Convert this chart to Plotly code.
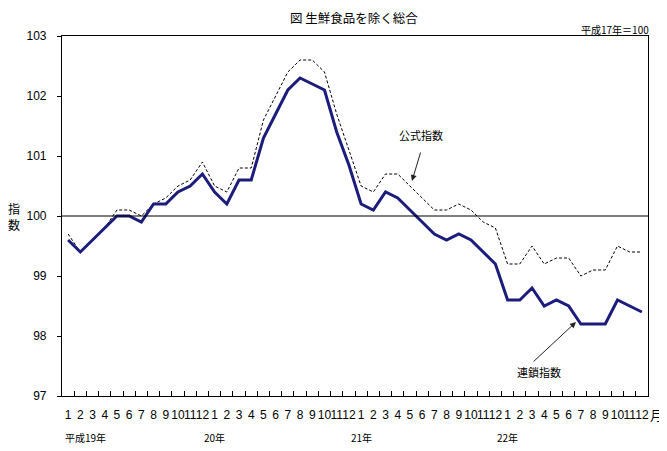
import plotly.graph_objects as go

years = ["19", "20", "21", "22"]
months = [str(m) for m in range(1, 13)]
year_labels = ["平成19年", "20年", "21年", "22年"]

official = [99.7, 99.4, 99.6, 99.8, 100.1, 100.1, 100.0, 100.2, 100.3, 100.5, 100.6, 100.9,
            100.5, 100.4, 100.8, 100.8, 101.6, 102.0, 102.4, 102.6, 102.6, 102.4, 101.7, 101.1,
            100.5, 100.4, 100.7, 100.7, 100.5, 100.3, 100.1, 100.1, 100.2, 100.1, 99.9, 99.8,
            99.2, 99.2, 99.5, 99.2, 99.3, 99.3, 99.0, 99.1, 99.1, 99.5, 99.4, 99.4]
chain = [99.6, 99.4, 99.6, 99.8, 100.0, 100.0, 99.9, 100.2, 100.2, 100.4, 100.5, 100.7,
         100.4, 100.2, 100.6, 100.6, 101.3, 101.7, 102.1, 102.3, 102.2, 102.1, 101.4, 100.85,
         100.2, 100.1, 100.4, 100.3, 100.1, 99.9, 99.7, 99.6, 99.7, 99.6, 99.4, 99.2,
         98.6, 98.6, 98.8, 98.5, 98.6, 98.5, 98.2, 98.2, 98.2, 98.6, 98.5, 98.4]

cats = [f"{y}-{m}" for y in years for m in months]
tick_text = [m for y in years for m in months]

FONT = "Arial, Liberation Sans, Noto Sans CJK JP"
JP = "Noto Sans CJK JP"

fig = go.Figure()
fig.add_trace(go.Scatter(x=cats, y=official, mode="lines", name="公式指数",
                         line=dict(color="black", width=1, dash="3px,2px")))
fig.add_trace(go.Scatter(x=cats, y=chain, mode="lines", name="連鎖指数",
                         line=dict(color="#1c1c7c", width=3)))

# page body has an 8px default margin; compensate so the plot lands where the reference has it
OFF = 8
W, H = 667 - OFF, 451 - OFF
L, T = 62 - OFF, 36 - OFF
R = W - (648 - OFF)
B = H - (396 - OFF)
pw, ph = W - L - R, H - T - B

def px(x):
    return (x - OFF - L) / pw

def py(y):
    return (H - B - (y - OFF)) / ph

fig.add_shape(type="line", xref="paper", yref="y", x0=0, x1=1, y0=100, y1=100,
              line=dict(color="black", width=1.2))

ann = []
for i, lab in enumerate(year_labels):
    if i == 0:
        ann.append(dict(x=px(63), y=py(437), xref="paper", yref="paper", text=lab,
                        showarrow=False, xanchor="left", yanchor="middle",
                        font=dict(family=JP, size=10, color="black")))
    else:
        ann.append(dict(x=cats[i * 12], y=py(437), xref="x", yref="paper", text=lab,
                        showarrow=False, xanchor="center", yanchor="middle",
                        font=dict(family=JP, size=10, color="black")))
ann += [
    dict(x=px(657), y=py(414), xref="paper", yref="paper", text="月", showarrow=False,
         xanchor="center", yanchor="middle", font=dict(family=JP, size=13, color="black")),
    dict(x=px(354), y=py(18), xref="paper", yref="paper", text="図 生鮮食品を除く総合",
         showarrow=False, xanchor="center", yanchor="middle",
         font=dict(family=JP, size=12.5, color="black")),
    dict(x=px(651), y=py(29), xref="paper", yref="paper", text="平成17年＝100",
         showarrow=False, xanchor="right", yanchor="middle",
         font=dict(family=JP, size=10, color="black")),
    dict(x=px(14), y=py(216), xref="paper", yref="paper", text="指<br>数",
         showarrow=False, xanchor="center", yanchor="middle",
         font=dict(family=JP, size=12, color="black")),
    dict(x=px(421), y=py(135), xref="paper", yref="paper", text="公式指数",
         showarrow=False, xanchor="center", yanchor="middle",
         font=dict(family=JP, size=11, color="black")),
    dict(x=px(412), y=py(181), xref="paper", yref="paper", text="", showarrow=True,
         ax=9, ay=-30, arrowhead=2, arrowsize=1.2, arrowwidth=1, arrowcolor="#222",
         standoff=0, startstandoff=0),
    dict(x=px(539), y=py(372), xref="paper", yref="paper", text="連鎖指数",
         showarrow=False, xanchor="center", yanchor="middle",
         font=dict(family=JP, size=11, color="black")),
    dict(x=px(576), y=py(322), xref="paper", yref="paper", text="", showarrow=True,
         ax=-44, ay=41, arrowhead=2, arrowsize=1.2, arrowwidth=1, arrowcolor="#222",
         standoff=0, startstandoff=0),
]

fig.update_layout(
    width=W, height=H,
    margin=dict(l=L, r=R, t=T, b=B),
    paper_bgcolor="white", plot_bgcolor="white",
    showlegend=False,
    font=dict(family=FONT, size=12, color="black"),
    annotations=ann,
    xaxis=dict(type="category", tickmode="array", tickvals=cats, ticktext=tick_text,
               tickson="boundaries", ticks="inside", ticklen=5, tickcolor="black",
               showgrid=False, showline=True, linecolor="black", linewidth=1.2, mirror=True,
               tickfont=dict(family=FONT, size=12), tickangle=0, ticklabelstandoff=7,
               range=[-0.5, 47.5]),
    yaxis=dict(range=[97, 103], tickmode="array", tickvals=[97, 98, 99, 100, 101, 102, 103],
               ticks="outside", ticklen=4, tickcolor="black", showgrid=False, zeroline=False,
               showline=True, linecolor="black", linewidth=1.2, mirror=True,
               tickfont=dict(family=FONT, size=12), ticklabelstandoff=8),
)

fig.write_html("out.html")
